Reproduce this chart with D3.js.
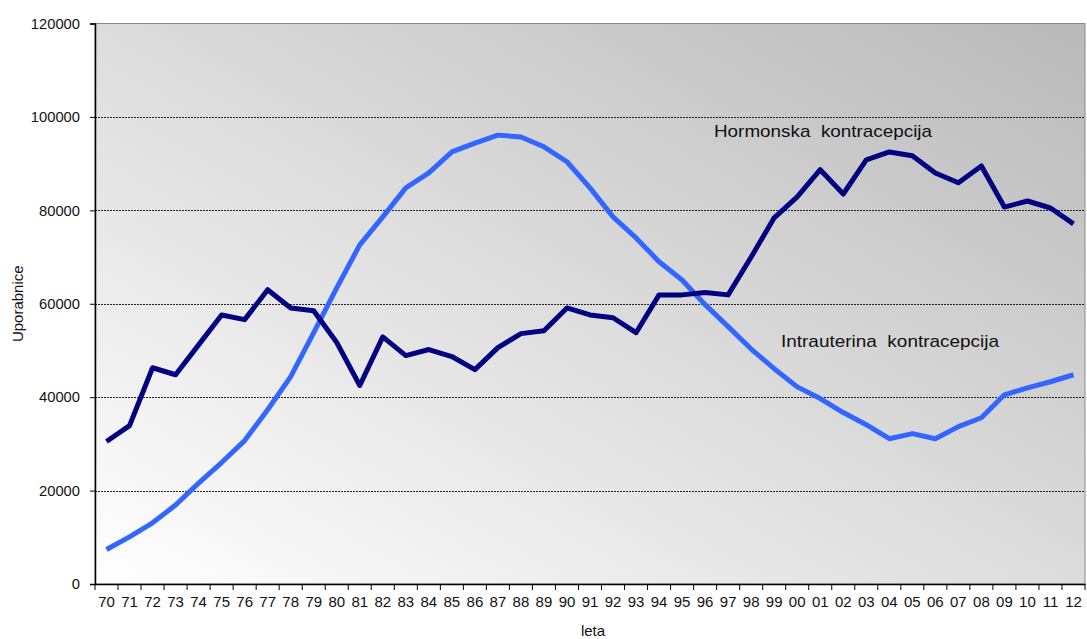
<!DOCTYPE html>
<html lang="sl">
  <head>
    <meta charset="utf-8">
    <script type="text/javascript" src="https://cdn.jsdelivr.net/npm/d3@7"></script>
    <style>
      body { margin: 0; background: #fff; }
      svg text { font-family: "Liberation Sans", Arial, sans-serif; fill: #111; }
    </style>
  </head>
  <body>
    <svg id="chart"></svg>
  </body>
  <script type="text/javascript">

    var years = ['70','71','72','73','74','75','76','77','78','79',
                 '80','81','82','83','84','85','86','87','88','89',
                 '90','91','92','93','94','95','96','97','98','99',
                 '00','01','02','03','04','05','06','07','08','09',
                 '10','11','12'];

    var hormonska = [30500,33900,46300,44800,51200,57600,56600,63000,59100,58500,
                     51700,42500,52900,48900,50200,48700,45900,50600,53600,54200,
                     59100,57600,57000,53800,61900,61900,62400,61900,70000,78400,
                     82900,88700,83500,90800,92500,91700,88000,85900,89500,80700,
                     82000,80500,77100];

    var intrauterina = [7400,10100,13100,16900,21600,26000,30700,37300,44400,53800,
                        63400,72600,78600,84800,88000,92500,94400,96100,95700,93600,
                        90400,84800,78600,74100,69000,65100,59800,55100,50300,46100,
                        42200,39700,36700,34100,31100,32200,31100,33700,35600,40500,
                        42000,43300,44800];

    var yTicks = [0,20000,40000,60000,80000,100000,120000];

    var width = 1087, height = 639;
    var margin = {top: 23.5, right: 2, bottom: 55, left: 95};

    var svg = d3.select('#chart').attr('width', width).attr('height', height);

    var x = d3.scaleBand().domain(years).range([margin.left, width - margin.right]);
    var y = d3.scaleLinear().domain([0,120000]).range([height - margin.bottom, margin.top]);

    // background gradient
    var grad = svg.append('defs').append('linearGradient')
      .attr('id','bg').attr('x1',0).attr('y1',1).attr('x2',1).attr('y2',0);
    grad.append('stop').attr('offset','0%').attr('stop-color','#ffffff');
    grad.append('stop').attr('offset','100%').attr('stop-color','#b9b9b9');

    svg.append('rect')
      .attr('x', margin.left).attr('y', y(120000))
      .attr('width', x.range()[1] - margin.left)
      .attr('height', y(0) - y(120000))
      .attr('fill','url(#bg)')
      .attr('stroke','#8a8a8a');

    // gridlines
    svg.selectAll('line.grid').data(yTicks.filter(function(d){ return d > 0 && d < 120000; }))
      .enter().append('line')
      .attr('class','grid')
      .attr('x1', margin.left).attr('x2', x.range()[1])
      .attr('y1', function(d){ return Math.round(y(d)) + 0.5; })
      .attr('y2', function(d){ return Math.round(y(d)) + 0.5; })
      .attr('stroke','#222').attr('stroke-dasharray','2,1');

    // y axis
    var yAxis = svg.append('g')
      .attr('transform','translate(' + margin.left + ',0)')
      .call(d3.axisLeft(y).tickValues(yTicks).tickFormat(d3.format('d')).tickSize(5).tickPadding(10));
    yAxis.select('.domain').attr('stroke','#000').attr('stroke-width',1.5);
    yAxis.selectAll('text').style('font-size','15px')
      .attr('textLength', function(d){ return String(d).length * 8.2; })
      .attr('lengthAdjust','spacingAndGlyphs');

    // x axis, ticks between categories
    var xAxis = svg.append('g')
      .attr('transform','translate(0,' + y(0) + ')')
      .call(d3.axisBottom(x).tickSize(0).tickPadding(12));
    xAxis.select('.domain').attr('stroke','#000').attr('stroke-width',1.5);
    xAxis.selectAll('text').style('font-size','15px');
    xAxis.selectAll('line.sep').data(years.concat(['end']))
      .enter().append('line')
      .attr('class','sep')
      .attr('x1', function(d,i){ return margin.left + i * x.bandwidth(); })
      .attr('x2', function(d,i){ return margin.left + i * x.bandwidth(); })
      .attr('y1', 0).attr('y2', 6)
      .attr('stroke','#000');

    // lines
    var line = d3.line()
      .x(function(d,i){ return x(years[i]) + x.bandwidth()/2; })
      .y(function(d){ return y(d); });

    svg.append('path').datum(intrauterina)
      .attr('d', line).attr('fill','none')
      .attr('stroke','#3366ff').attr('stroke-width',5)
      .attr('stroke-linejoin','round');

    svg.append('path').datum(hormonska)
      .attr('d', line).attr('fill','none')
      .attr('stroke','#000080').attr('stroke-width',5)
      .attr('stroke-linejoin','round');

    // series labels
    svg.append('text')
      .attr('x', 714).attr('y', 137)
      .style('font-size','17px')
      .style('white-space','pre')
      .attr('textLength', 218).attr('lengthAdjust','spacingAndGlyphs')
      .text('Hormonska  kontracepcija');

    svg.append('text')
      .attr('x', 781).attr('y', 347)
      .style('font-size','17px')
      .style('white-space','pre')
      .attr('textLength', 218).attr('lengthAdjust','spacingAndGlyphs')
      .text('Intrauterina  kontracepcija');

    // axis titles
    svg.append('text')
      .attr('transform','translate(23,' + (y(60000)) + ') rotate(-90)')
      .attr('text-anchor','middle')
      .style('font-size','15px')
      .text('Uporabnice');

    svg.append('text')
      .attr('x', 593).attr('y', 636)
      .attr('text-anchor','middle')
      .style('font-size','15px')
      .text('leta');

  </script>
</html>
